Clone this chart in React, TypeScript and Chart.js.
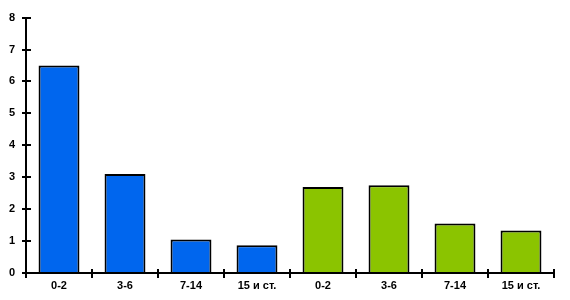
import React, { useEffect, useRef } from "react";
import { Chart, registerables } from "chart.js";

Chart.register(...registerables);

const categories = ["0-2", "3-6", "7-14", "15 и ст.", "0-2", "3-6", "7-14", "15 и ст."];
const blueValues = [6.5, 3.1, 1.05, 0.87, null, null, null, null];
const greenValues = [null, null, null, null, 2.69, 2.75, 1.55, 1.33];
const yTicks = [0, 1, 2, 3, 4, 5, 6, 7, 8];

const BLUE = "#0066EE";
const GREEN = "#8BC400";
const FONT = "'Liberation Sans', Arial, sans-serif";

const axesPlugin = {
  id: "customAxes",
  afterDatasetsDraw(chart: any) {
    const { ctx, chartArea, scales } = chart;
    const { left, right, bottom } = chartArea;
    const x = scales.x;
    const y = scales.y;
    ctx.save();
    ctx.strokeStyle = "#000";
    ctx.lineWidth = 2;
    ctx.beginPath();
    ctx.moveTo(left, y.getPixelForValue(8));
    ctx.lineTo(left, bottom);
    ctx.moveTo(left - 4, bottom);
    ctx.lineTo(right, bottom);
    for (const v of yTicks) {
      const py = Math.round(y.getPixelForValue(v));
      ctx.moveTo(left - 4, py);
      ctx.lineTo(left + 5, py);
    }
    const n = categories.length;
    for (let i = 0; i <= n; i++) {
      const px = Math.round(x.left + (i * x.width) / n);
      ctx.moveTo(px, bottom - 4);
      ctx.lineTo(px, bottom + 5);
    }
    ctx.stroke();
    ctx.restore();
  },
};

export default function App() {
  const ref = useRef<HTMLCanvasElement>(null);
  useEffect(() => {
    document.body.style.margin = "0";
    const chart = new Chart(ref.current!, {
      type: "bar",
      data: {
        labels: categories,
        datasets: [
          {
            data: blueValues as any,
            backgroundColor: BLUE,
            borderColor: "#000",
            borderWidth: 2,
            barPercentage: 0.62,
            categoryPercentage: 1,
          },
          {
            data: greenValues as any,
            backgroundColor: GREEN,
            borderColor: "#000",
            borderWidth: 2,
            barPercentage: 0.62,
            categoryPercentage: 1,
          },
        ],
      },
      options: {
        responsive: false,
        animation: false,
        layout: { padding: { top: 17, right: 16, left: 0, bottom: 0 } },
        plugins: { legend: { display: false }, tooltip: { enabled: false } },
        scales: {
          x: {
            stacked: true,
            grid: { display: false, drawTicks: false },
            border: { display: false },
            ticks: {
              color: "#000",
              padding: 6,
              maxRotation: 0,
              font: { family: FONT, size: 11, weight: "bold" },
            },
            afterFit: (s: any) => {
              s.height = 27;
            },
          },
          y: {
            stacked: true,
            min: 0,
            max: 8,
            grid: { display: false, drawTicks: false },
            border: { display: false },
            ticks: {
              stepSize: 1,
              color: "#000",
              padding: 11,
              font: { family: FONT, size: 11, weight: "bold" },
            },
            afterFit: (s: any) => {
              s.width = 26;
            },
          },
        },
      },
      plugins: [axesPlugin],
    });
    return () => chart.destroy();
  }, []);
  return (
    <div style={{ position: "absolute", left: 0, top: 0 }}>
      <canvas ref={ref} width={570} height={300} />
    </div>
  );
}
